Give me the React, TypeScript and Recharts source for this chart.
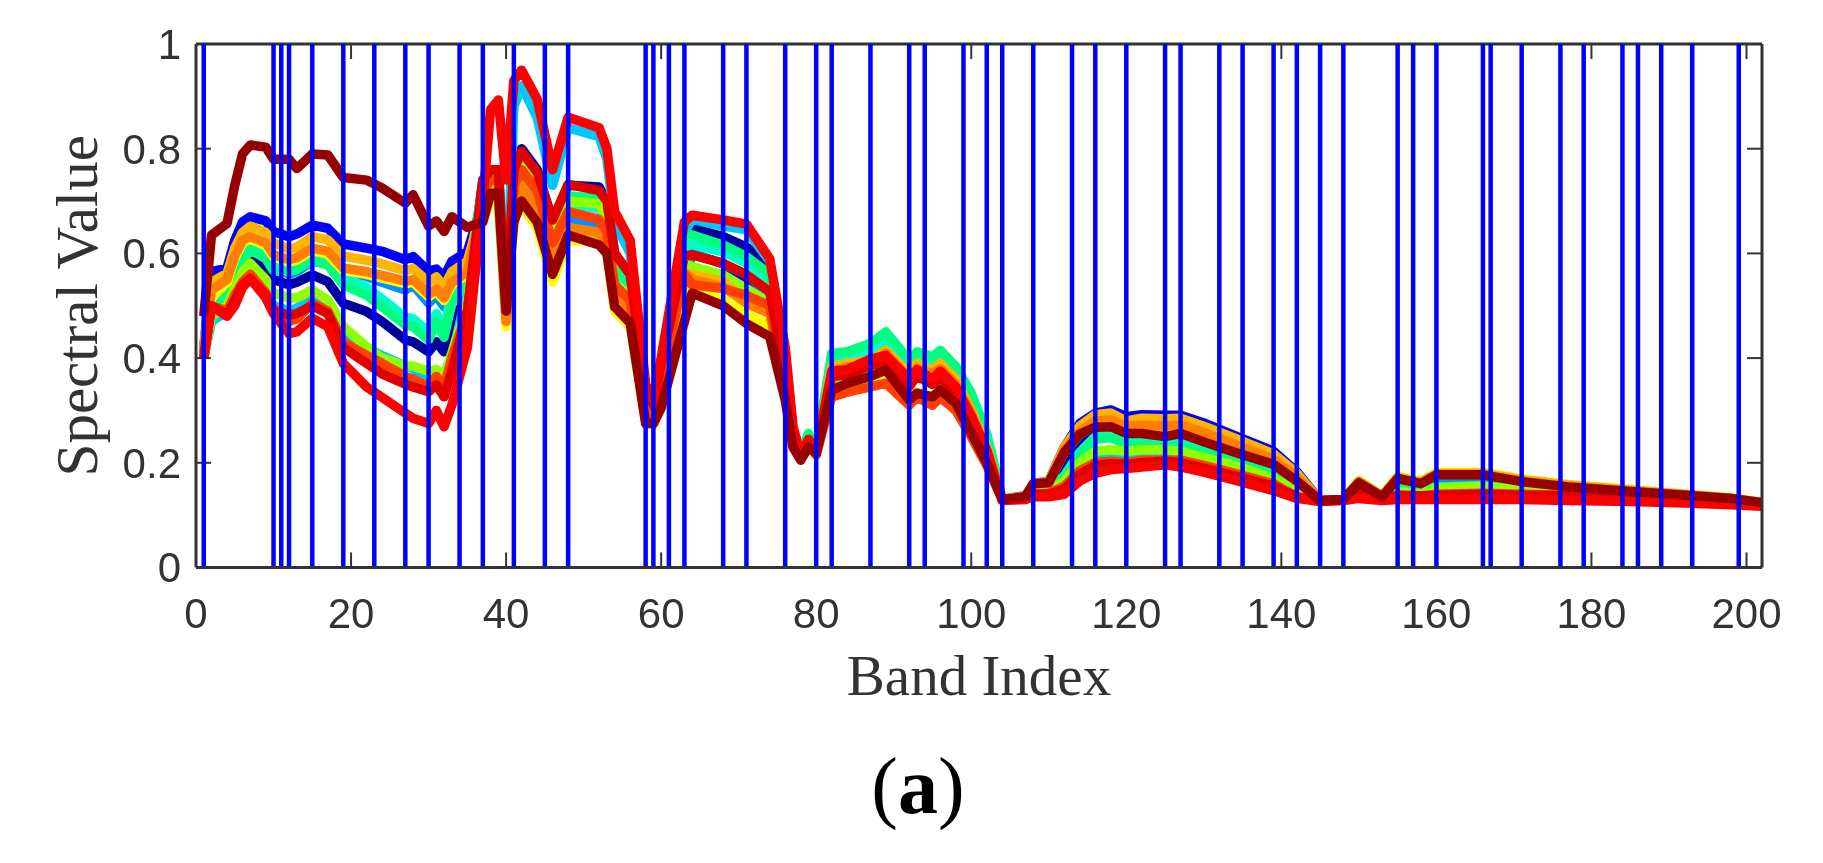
import React from 'react';
import { LineChart, Line, XAxis, YAxis, ReferenceLine } from 'recharts';

const knots = [
  1,2,4,5,6,7,9,10,12,13,15,17,19,22,24,27,28,30,31,32,33,35,
  37,38,39,40,41,42,44,46,48,52,53,54,56,58,59,60,63,
  64,68,71,74,76,77,78,79,80,82,84,87,89,92,93,95,96,98,100,102,
  104,107,108,110,112,114,116,118,120,122,125,127,130,134,139,142,145,
  148,150,153,155,158,160,166,171,177,185,192,198,202,
];

const selectedBands = [1,10,11,12,15,19,23,27,30,34,37,41,45,48,58,59,61,63,68,71,76,80,82,87,92,94,99,102,104,108,113,116,120,125,127,132,135,139,142,145,148,155,157,160,166,167,171,176,179,184,186,189,193,199];
const xTicks = [0,20,40,60,80,100,120,140,160,180,200];
const yTicks = [0,0.2,0.4,0.6,0.8,1];
const xMax = 202;
const yMax = 1;
const tickLenY = 0.0287;
const tickLenX = 1.93;

const navy = [
  .40,.48,.505,.54,.57,.594,.57,.55,.54,.545,.559,.546,.505,.489,.47,.435,.431,.412,.431,.412,.465,.52,
  .74,.76,.76,.5,.76,.8,.76,.66,.73,.727,.7,.6,.555,.33,.3,.38,.65,
  .648,.632,.612,.58,.41,.26,.215,.25,.222,.40,.405,.42,.44,.39,.405,.395,.408,.378,.325,.25,
  .13,.135,.155,.158,.2,.245,.26,.262,.25,.25,.245,.25,.235,.215,.19,.16,.128,
  .13,.16,.134,.165,.155,.17,.17,.16,.15,.142,.135,.13,.123,
];
const blue = [
  .42,.565,.572,.625,.66,.67,.662,.642,.632,.637,.654,.648,.618,.61,.604,.588,.594,.566,.57,.555,.585,.603,
  .7,.72,.72,.48,.70,.73,.69,.6,.65,.648,.62,.55,.5,.3,.28,.34,.55,
  .60,.58,.55,.52,.37,.25,.21,.24,.22,.36,.37,.385,.39,.35,.37,.35,.365,.335,.28,.21,
  .13,.137,.16,.165,.23,.275,.295,.301,.288,.292,.291,.291,.276,.252,.222,.183,.128,
  .13,.16,.135,.168,.16,.175,.175,.163,.153,.145,.137,.131,.124,
];
const sky = [
  .41,.50,.53,.575,.6,.615,.6,.575,.56,.565,.585,.58,.565,.556,.545,.53,.54,.505,.52,.498,.53,.56,
  .68,.71,.71,.48,.72,.75,.71,.6,.67,.65,.62,.55,.5,.3,.28,.34,.55,
  .6,.58,.56,.52,.37,.25,.21,.24,.22,.36,.365,.38,.39,.35,.365,.35,.36,.33,.28,.21,
  .13,.135,.16,.162,.22,.255,.27,.27,.26,.26,.26,.26,.245,.225,.2,.165,.128,
  .13,.158,.134,.165,.157,.17,.17,.16,.15,.143,.136,.13,.123,
];
const cyan = [
  .40,.47,.49,.52,.55,.565,.53,.5,.49,.495,.517,.505,.445,.42,.405,.385,.38,.36,.365,.35,.4,.53,
  .68,.76,.76,.5,.88,.92,.86,.73,.84,.823,.78,.66,.60,.34,.31,.39,.64,
  .665,.652,.645,.585,.415,.265,.215,.25,.222,.37,.375,.39,.40,.36,.375,.36,.37,.34,.285,.22,
  .13,.133,.14,.145,.16,.19,.21,.212,.21,.21,.21,.21,.2,.185,.165,.14,.127,
  .13,.14,.13,.14,.135,.145,.147,.142,.138,.134,.13,.126,.121,
];
const aqua = [
  .41,.50,.535,.57,.6,.625,.6,.58,.58,.585,.603,.592,.555,.535,.513,.478,.475,.45,.485,.455,.52,.565,
  .72,.74,.74,.5,.74,.78,.74,.63,.695,.685,.66,.57,.53,.31,.29,.37,.615,
  .617,.603,.581,.545,.39,.255,.215,.25,.222,.395,.40,.416,.431,.38,.395,.385,.395,.37,.32,.245,
  .13,.135,.15,.15,.175,.22,.25,.253,.24,.24,.238,.24,.225,.21,.18,.15,.127,
  .13,.15,.132,.15,.145,.153,.155,.148,.142,.136,.131,.127,.122,
];
const spring = [
  .40,.49,.525,.555,.585,.607,.59,.567,.565,.57,.587,.578,.54,.52,.498,.463,.46,.435,.47,.44,.505,.55,
  .73,.75,.75,.5,.75,.78,.74,.64,.71,.705,.68,.58,.54,.31,.29,.37,.635,
  .635,.616,.594,.56,.40,.26,.215,.256,.225,.409,.412,.428,.45,.396,.412,.402,.415,.384,.333,.256,
  .13,.135,.15,.15,.17,.215,.245,.248,.235,.235,.23,.232,.22,.205,.175,.145,.127,
  .13,.15,.132,.15,.145,.154,.156,.149,.143,.137,.132,.127,.122,
];
const lime = [
  .40,.48,.5,.535,.565,.581,.55,.525,.515,.515,.53,.511,.46,.422,.40,.385,.385,.375,.378,.365,.41,.505,
  .71,.73,.73,.49,.74,.775,.73,.635,.70,.695,.665,.54,.52,.31,.29,.36,.58,
  .575,.559,.533,.505,.36,.24,.21,.235,.22,.36,.365,.38,.395,.35,.365,.35,.36,.33,.28,.21,
  .13,.135,.145,.148,.165,.2,.222,.225,.222,.225,.225,.222,.21,.195,.17,.145,.127,
  .13,.14,.13,.145,.14,.152,.155,.148,.14,.135,.13,.127,.122,
];
const yellow = [
  .40,.515,.545,.59,.62,.627,.615,.593,.583,.587,.605,.599,.567,.56,.553,.542,.545,.517,.527,.51,.54,.56,
  .66,.7,.7,.46,.67,.69,.65,.545,.625,.622,.6,.49,.46,.28,.27,.33,.52,
  .53,.511,.486,.46,.33,.235,.205,.23,.215,.335,.35,.36,.37,.32,.335,.325,.335,.31,.255,.2,
  .13,.135,.16,.162,.22,.255,.27,.27,.26,.26,.26,.26,.245,.225,.2,.165,.128,
  .13,.166,.137,.174,.164,.182,.182,.169,.158,.149,.14,.133,.124,
];
const amber = [
  .42,.545,.562,.61,.64,.652,.64,.62,.608,.612,.632,.626,.595,.587,.58,.567,.571,.545,.555,.536,.565,.585,
  .69,.71,.71,.475,.69,.72,.68,.58,.64,.636,.61,.53,.49,.3,.28,.34,.555,
  .56,.546,.51,.49,.35,.24,.21,.235,.22,.384,.39,.395,.415,.37,.39,.377,.39,.36,.30,.23,
  .13,.136,.16,.165,.23,.27,.292,.295,.28,.285,.284,.285,.27,.247,.217,.18,.128,
  .13,.165,.137,.173,.163,.18,.18,.168,.158,.148,.14,.133,.124,
];
const orange = [
  .42,.53,.55,.595,.625,.632,.62,.598,.588,.592,.61,.604,.572,.565,.558,.547,.55,.522,.532,.515,.545,.565,
  .69,.71,.71,.47,.695,.73,.69,.6,.65,.64,.62,.53,.49,.3,.28,.35,.565,
  .55,.536,.505,.485,.345,.24,.21,.235,.22,.375,.383,.385,.41,.36,.38,.37,.38,.35,.295,.22,
  .13,.135,.16,.162,.225,.26,.28,.282,.27,.272,.27,.272,.258,.235,.207,.172,.128,
  .13,.163,.136,.17,.161,.178,.178,.165,.155,.146,.139,.132,.124,
];
const orangeRed = [
  .41,.50,.49,.52,.545,.56,.525,.495,.47,.475,.505,.49,.43,.405,.39,.365,.36,.345,.365,.345,.4,.49,
  .72,.74,.74,.49,.73,.76,.72,.62,.68,.665,.64,.54,.51,.31,.29,.36,.56,
  .54,.533,.52,.50,.355,.24,.208,.235,.215,.326,.335,.345,.352,.31,.325,.31,.325,.30,.25,.195,
  .13,.133,.14,.142,.155,.185,.2,.203,.2,.205,.205,.205,.195,.18,.16,.135,.127,
  .13,.142,.13,.138,.136,.14,.142,.14,.138,.135,.13,.127,.122,
];
const crimson = [
  .40,.50,.482,.51,.54,.552,.52,.49,.482,.485,.5,.485,.42,.39,.37,.35,.345,.336,.349,.326,.375,.49,
  .74,.76,.76,.5,.76,.795,.755,.664,.732,.72,.70,.60,.56,.34,.31,.39,.595,
  .597,.581,.559,.527,.37,.245,.212,.24,.222,.365,.368,.386,.392,.346,.366,.35,.362,.335,.28,.21,
  .13,.133,.14,.14,.15,.178,.195,.198,.197,.2,.203,.2,.19,.175,.155,.135,.127,
  .13,.145,.13,.138,.137,.138,.14,.138,.137,.134,.13,.126,.122,
];
const red = [
  .40,.50,.48,.5,.535,.552,.515,.485,.447,.45,.476,.46,.39,.345,.325,.295,.285,.275,.30,.269,.31,.42,
  .70,.875,.893,.74,.93,.95,.895,.76,.86,.84,.80,.68,.625,.35,.32,.40,.66,
  .673,.664,.656,.59,.42,.27,.215,.245,.22,.375,.378,.398,.405,.36,.378,.36,.375,.345,.29,.225,
  .128,.13,.135,.135,.14,.165,.18,.187,.189,.192,.196,.192,.182,.167,.147,.132,.126,
  .128,.132,.128,.13,.13,.13,.13,.13,.128,.126,.123,.12,.117,
];
const maroon = [
  .48,.635,.657,.73,.79,.807,.803,.78,.78,.762,.79,.788,.745,.74,.725,.696,.712,.652,.662,.642,.67,.65,
  .66,.715,.715,.49,.66,.70,.66,.56,.635,.616,.60,.498,.467,.275,.275,.305,.47,
  .524,.50,.466,.441,.32,.23,.205,.23,.218,.339,.352,.365,.377,.32,.333,.326,.339,.314,.258,.2,
  .13,.135,.16,.162,.22,.255,.268,.269,.256,.256,.25,.256,.24,.22,.197,.165,.128,
  .13,.162,.135,.17,.16,.177,.177,.164,.154,.145,.138,.132,.124,
];

const seriesList: [string, number[], string][] = [
  ['navy', navy, '#00009c'],
  ['blue', blue, '#0000ff'],
  ['sky', sky, '#0090ff'],
  ['cyan', cyan, '#00c8ff'],
  ['aqua', aqua, '#00ffc8'],
  ['spring', spring, '#00ff80'],
  ['lime', lime, '#90ff00'],
  ['yellow', yellow, '#ffff00'],
  ['amber', amber, '#ffb400'],
  ['orange', orange, '#ff8000'],
  ['orangeRed', orangeRed, '#ff4000'],
  ['crimson', crimson, '#e00000'],
  ['red', red, '#ff0000'],
  ['maroon', maroon, '#960000'],
];

const rows = knots.map((band, i) => {
  const row: Record<string, number> = { band };
  seriesList.forEach(([name, values]) => {
    row[name] = values[i];
  });
  return row;
});

const axisInk = '#333333';
const tickFont = { fontFamily: '"Liberation Sans", Arial, sans-serif', fontSize: 42, fill: '#333333' };
const titleFont = { fontFamily: '"Liberation Serif", "Times New Roman", serif', fontSize: 57, fill: '#333333' };
const boxLine = { stroke: axisInk, strokeWidth: 3 };

export default function App() {
  return (
    <div style={{ position: 'absolute', left: 0, top: 0, width: 1823, height: 863, background: '#fff', overflow: 'hidden', filter: 'blur(0.6px)' }}>
      <LineChart
        width={1823}
        height={863}
        data={rows}
        margin={{ top: 44, right: 61, bottom: 168.5, left: 56 }}
      >
        <XAxis
          dataKey="band"
          type="number"
          domain={[0, xMax]}
          ticks={xTicks}
          interval={0}
          height={127}
          tickSize={0}
          tickMargin={31}
          tickLine={false}
          axisLine={boxLine}
          tick={tickFont}
          label={{ value: 'Band Index', position: 'insideBottom', offset: 0, style: titleFont }}
        />
        <YAxis
          type="number"
          domain={[0, yMax]}
          ticks={yTicks}
          interval={0}
          width={140}
          tickSize={0}
          tickMargin={15}
          tickLine={false}
          axisLine={boxLine}
          tick={tickFont}
          tickFormatter={(v: number) => String(v)}
          label={{ value: 'Spectral Value', angle: -90, position: 'insideLeft', dx: 15, style: { ...titleFont, fontSize: 59, textAnchor: 'middle' } }}
        />
        {seriesList.map(([name, , color]) => (
          <Line
            key={name}
            dataKey={name}
            type="linear"
            stroke={color}
            strokeWidth={9.5}
            strokeLinejoin="round"
            dot={false}
            isAnimationActive={false}
          />
        ))}
        <ReferenceLine y={yMax} stroke={axisInk} strokeWidth={3} ifOverflow="visible" />
        <ReferenceLine x={xMax} stroke={axisInk} strokeWidth={3} ifOverflow="visible" />
        {xTicks.slice(1).map((t) => (
          <ReferenceLine key={`b${t}`} segment={[{ x: t, y: 0 }, { x: t, y: tickLenY }]} stroke={axisInk} strokeWidth={2} ifOverflow="visible" />
        ))}
        {xTicks.slice(1).map((t) => (
          <ReferenceLine key={`t${t}`} segment={[{ x: t, y: yMax }, { x: t, y: yMax - tickLenY }]} stroke={axisInk} strokeWidth={2} ifOverflow="visible" />
        ))}
        {yTicks.slice(1, -1).map((t) => (
          <ReferenceLine key={`l${t}`} segment={[{ x: 0, y: t }, { x: tickLenX, y: t }]} stroke={axisInk} strokeWidth={2} ifOverflow="visible" />
        ))}
        {yTicks.slice(1, -1).map((t) => (
          <ReferenceLine key={`r${t}`} segment={[{ x: xMax, y: t }, { x: xMax - tickLenX, y: t }]} stroke={axisInk} strokeWidth={2} ifOverflow="visible" />
        ))}
        {selectedBands.map((b) => (
          <ReferenceLine key={b} x={b} stroke="#0000ff" strokeWidth={4.5} />
        ))}
      </LineChart>
      <div
        style={{
          position: 'absolute',
          left: 718,
          width: 400,
          top: 741,
          textAlign: 'center',
          fontFamily: '"Liberation Serif", "Times New Roman", serif',
          fontSize: 80,
          lineHeight: '90px',
          color: '#000',
        }}
      >
        (<b>a</b>)
      </div>
    </div>
  );
}
